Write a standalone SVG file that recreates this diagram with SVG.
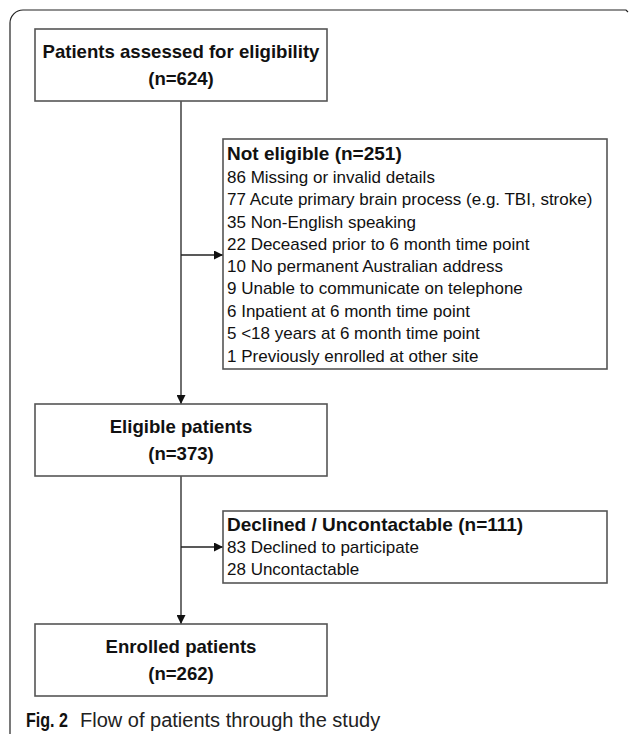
<svg xmlns="http://www.w3.org/2000/svg" width="629" height="735" viewBox="0 0 629 735">
<style>
.box{fill:#fff;stroke:#555;stroke-width:1.6}
.hb{font-family:"Liberation Sans",Arial,sans-serif;font-weight:bold;font-size:18.6px;fill:#111;text-anchor:middle}
.sh{font-family:"Liberation Sans",Arial,sans-serif;font-weight:bold;font-size:19px;fill:#111}
.it{font-family:"Liberation Sans",Arial,sans-serif;font-size:17px;fill:#111}
.con{fill:none;stroke:#222;stroke-width:1.3}
.cap{font-family:"Liberation Sans",Arial,sans-serif;font-size:20px;fill:#222}
</style>
<defs>
<marker id="arr" viewBox="0 0 10 10" refX="10" refY="5" markerWidth="10" markerHeight="9" markerUnits="userSpaceOnUse" orient="auto">
<path d="M0,0 L10,5 L0,10 Z" fill="#111"/>
</marker>
</defs>
<rect width="629" height="735" fill="#fff"/>
<path d="M10,734 L10,23 A13,13 0 0 1 23,10 L626,10 L628,12" fill="none" stroke="#222" stroke-width="1.2"/>
<g id="connectors">
<path class="con" d="M181,101 L181,404" marker-end="url(#arr)"/>
<path class="con" d="M181,255 L223,255" marker-end="url(#arr)"/>
<path class="con" d="M181,476 L181,624" marker-end="url(#arr)"/>
<path class="con" d="M181,547 L223,547" marker-end="url(#arr)"/>
</g>
<g id="assessed">
<rect class="box" x="35" y="29" width="292" height="72"/>
<text class="hb" x="181" y="58">Patients assessed for eligibility</text>
<text class="hb" x="181" y="85">(n=624)</text>
</g>
<g id="noteligible">
<rect class="box" x="223" y="139" width="384" height="230"/>
<text class="sh" x="227" y="160">Not eligible (n=251)</text>
<text class="it" x="227" y="183">86 Missing or invalid details</text>
<text class="it" x="227" y="205">77 Acute primary brain process (e.g. TBI, stroke)</text>
<text class="it" x="227" y="228">35 Non-English speaking</text>
<text class="it" x="227" y="250">22 Deceased prior to 6 month time point</text>
<text class="it" x="227" y="272">10 No permanent Australian address</text>
<text class="it" x="227" y="294">9 Unable to communicate on telephone</text>
<text class="it" x="227" y="317">6 Inpatient at 6 month time point</text>
<text class="it" x="227" y="339">5 &lt;18 years at 6 month time point</text>
<text class="it" x="227" y="362">1 Previously enrolled at other site</text>
</g>
<g id="eligible">
<rect class="box" x="35" y="404" width="292" height="72"/>
<text class="hb" x="181" y="433">Eligible patients</text>
<text class="hb" x="181" y="460">(n=373)</text>
</g>
<g id="declined">
<rect class="box" x="223" y="511" width="384" height="72"/>
<text class="sh" x="227" y="531">Declined / Uncontactable (n=111)</text>
<text class="it" x="227" y="553">83 Declined to participate</text>
<text class="it" x="227" y="575">28 Uncontactable</text>
</g>
<g id="enrolled">
<rect class="box" x="35" y="624" width="292" height="72"/>
<text class="hb" x="181" y="653">Enrolled patients</text>
<text class="hb" x="181" y="680">(n=262)</text>
</g>
<text class="cap" x="26" y="727"><tspan font-weight="bold" fill="#111" textLength="42" lengthAdjust="spacingAndGlyphs">Fig. 2</tspan><tspan x="80">Flow of patients through the study</tspan></text>
</svg>
